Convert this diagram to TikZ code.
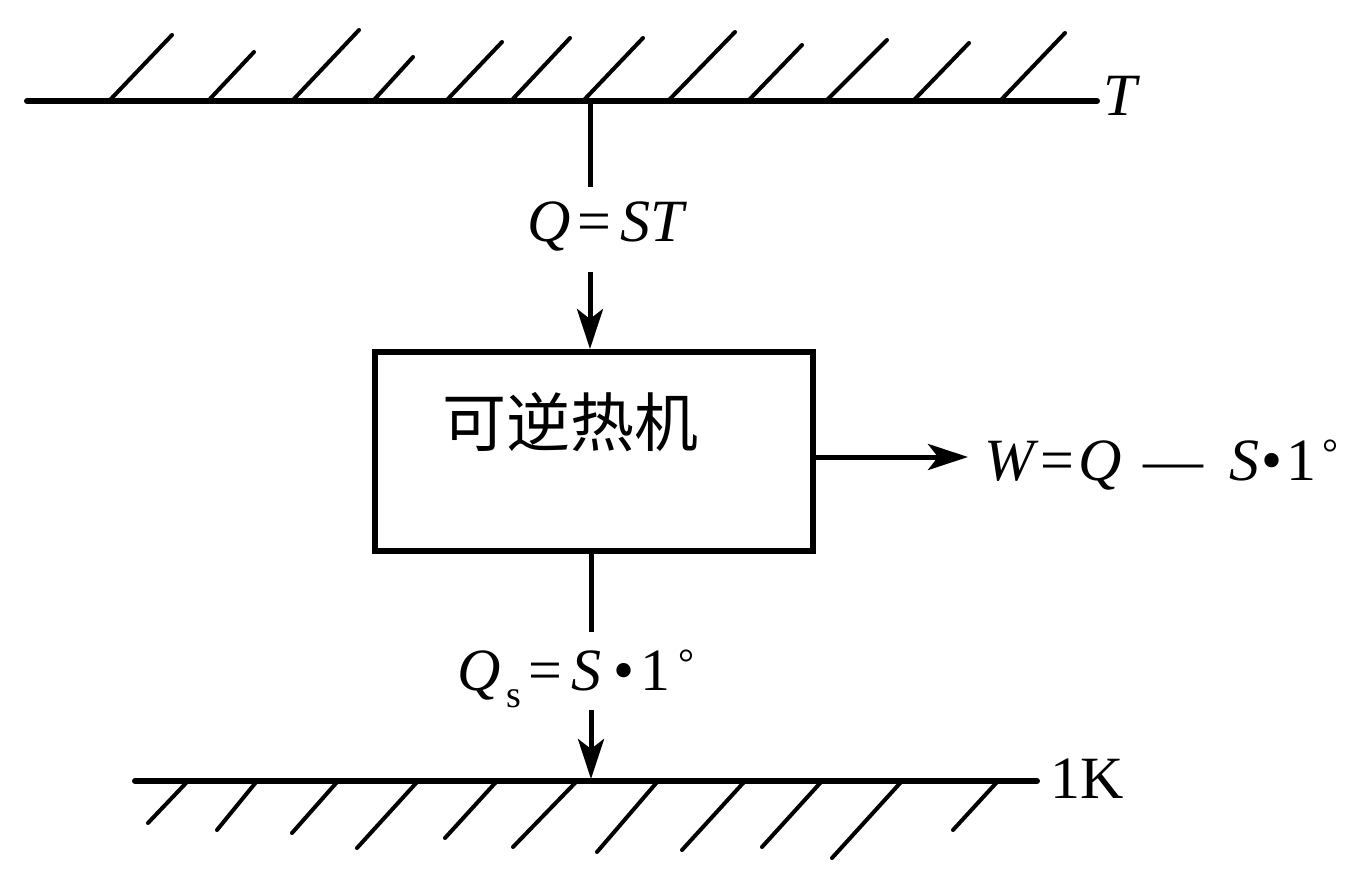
\documentclass[tikz,border=0pt]{standalone}
\usepackage{fontspec}
\setmainfont{Liberation Serif}
\newfontfamily\cjk{Noto Sans CJK SC}
\usetikzlibrary{arrows.meta}
\newcommand{\smdeg}{\raisebox{14pt}{\fontsize{40}{40}\selectfont °}}
\tikzset{
  wall/.style={line width=6pt, line cap=round},
  hatch/.style={line width=4pt, line cap=round},
  conn/.style={line width=5pt},
  arr/.style={line width=5pt, -{Stealth[length=40pt, width=26pt, inset=10pt]}},
  lbl/.style={inner sep=0pt, anchor=base west, font=\fontsize{60}{70}\selectfont},
  enginebox/.style={draw, line width=6pt, minimum width=438pt, minimum height=199pt, inner sep=0pt}
}
\begin{document}
\begin{tikzpicture}[x=1pt,y=-1pt]
\useasboundingbox (0,0) rectangle (1359,890);
% hot reservoir
\coordinate (tl) at (27,101);
\coordinate (tr) at (1097,101);
\draw[wall] (tl) -- (tr);
\foreach \a/\b/\c in {109/172/35, 208/254/52, 292/359/30, 373/413/57, 446/502/42, 511/570/38, 583/643/38, 668/735/32, 748/802/45, 826/887/40, 913/969/43, 1000/1065/33}
  \draw[hatch] (\a,101) -- (\b,\c);
\node[lbl] (T) at (1103,116) {\textit{T}};
% cold reservoir
\coordinate (bl) at (135,781);
\coordinate (br) at (1037,781);
\draw[wall] (bl) -- (br);
\foreach \a/\b/\c in {188/148/823, 257/217/830, 338/292/833, 418/357/848, 497/445/838, 577/513/847, 658/597/852, 745/682/850, 822/762/847, 902/832/858, 998/953/830}
  \draw[hatch] (\a,781) -- (\b,\c);
\node[lbl] (K) at (1050,798) {1K};
% engine
\node[enginebox] (box) at (594,451.5) {};
\node[inner sep=0pt, font=\cjk\fontsize{64}{70}\selectfont] (name) at (570,422) {可逆热机};
% top connector
\coordinate (t1) at (590,101);
\coordinate (t2) at (590,187);
\coordinate (t3) at (590,272);
\coordinate (t4) at (590,349);
\draw[conn] (t1) -- (t2);
\node[lbl] (qst) at (527,242) {\textit{Q}\kern7pt=\kern9pt\textit{ST}};
\draw[arr] (t3) -- (t4);
% right connector
\coordinate (r1) at (813,457);
\coordinate (r2) at (968,457);
\draw[arr] (r1) -- (r2);
\node[lbl] (w) at (984,480) {\textit{W}\kern2pt=\kern4pt\textit{Q}\kern22pt—\kern26pt\textit{S}\kern2pt•\kern4pt1\kern6pt\smdeg};
% bottom connector
\coordinate (b1) at (591,551);
\coordinate (b2) at (591,632);
\coordinate (b3) at (591,710);
\coordinate (b4) at (591,779);
\draw[conn] (b1) -- (b2);
\node[lbl] (qs) at (457,690) {\textit{Q}\kern6pt\raisebox{-17pt}{\fontsize{38}{40}\selectfont s}\kern7pt=\kern9pt\textit{S}\kern12pt•\kern6pt1\kern8pt\smdeg};
\draw[arr] (b3) -- (b4);
\end{tikzpicture}
\end{document}
